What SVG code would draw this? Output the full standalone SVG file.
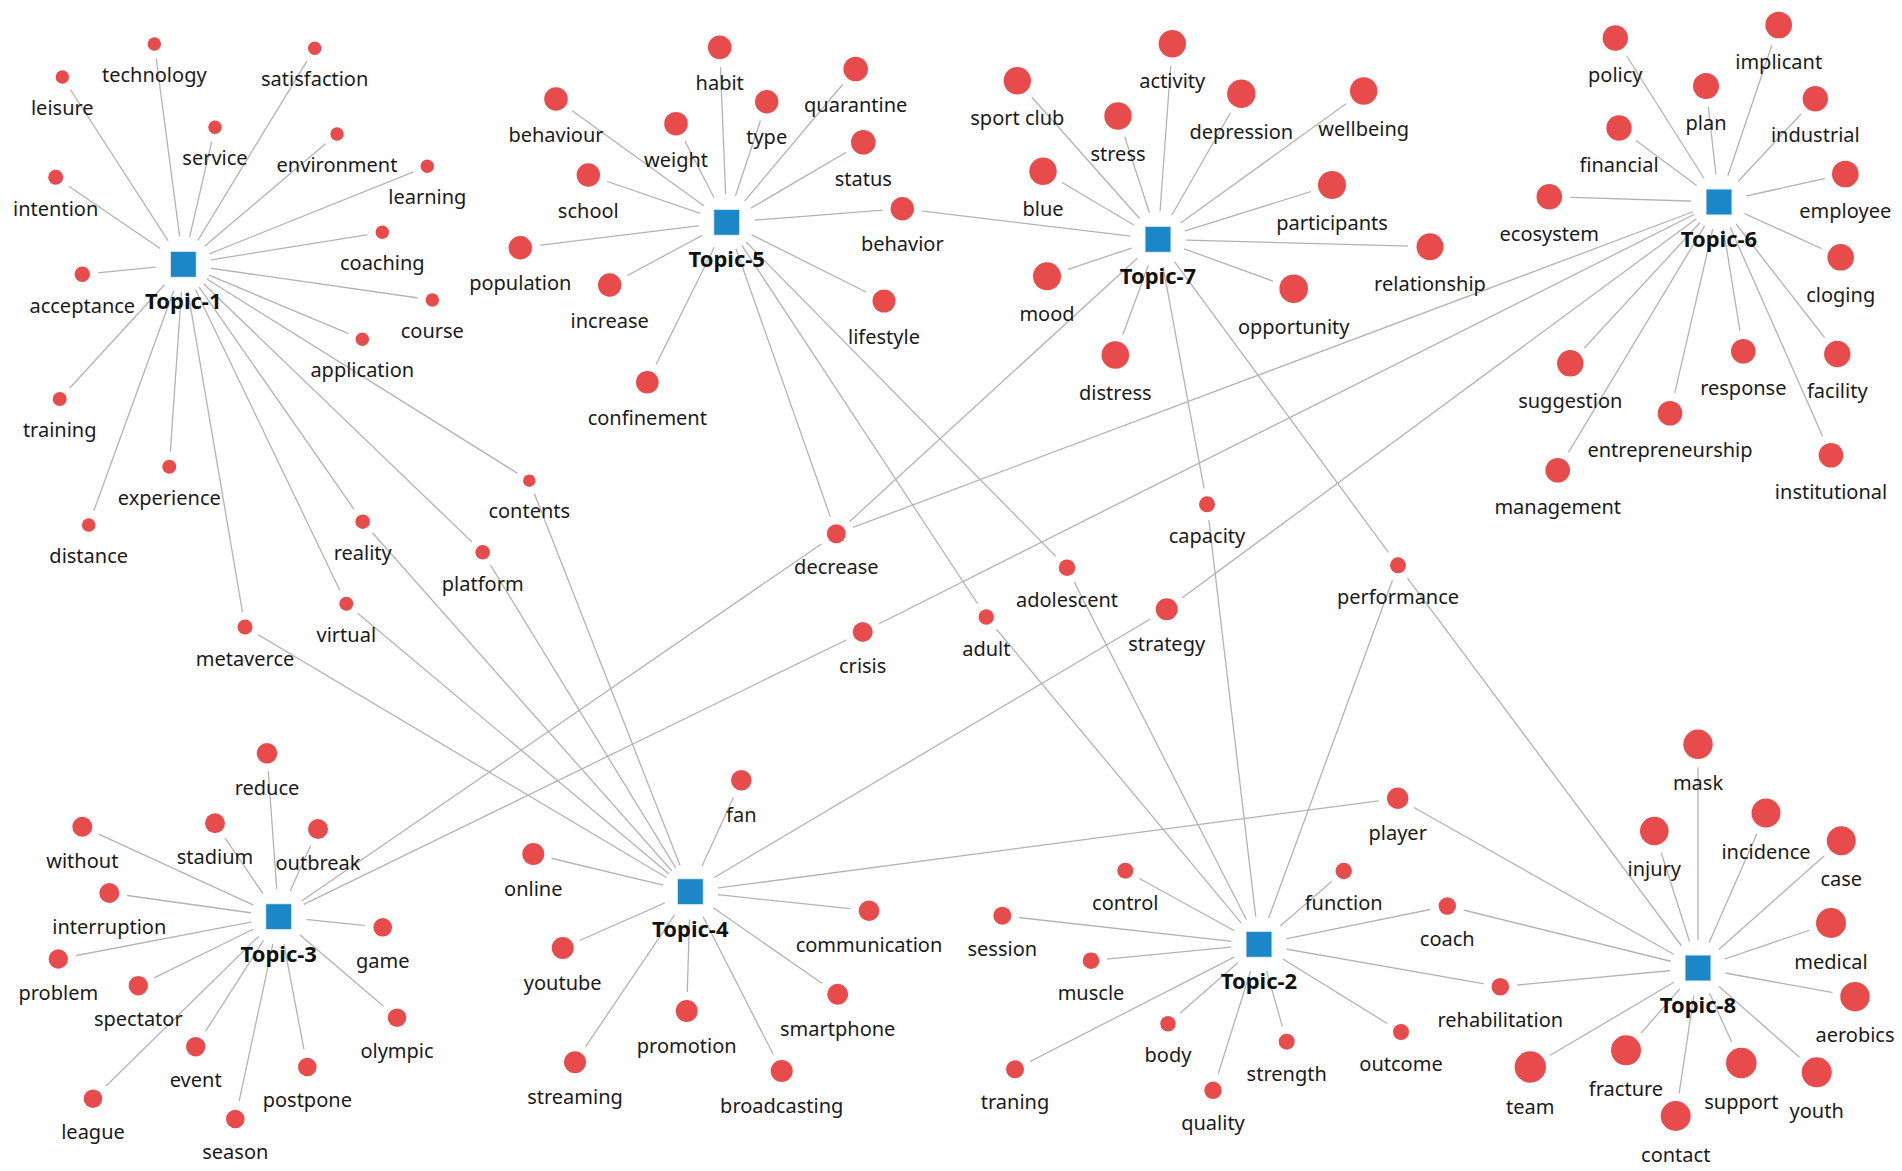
<svg xmlns="http://www.w3.org/2000/svg" width="1902" height="1171" viewBox="0 0 1902 1171">
<style>
.edge{stroke:#b3b3b3;stroke-width:1.3;fill:none}
.halo{fill:#ffffff}
.dot{fill:#e84b4b}
.sq{fill:#1b87c9;stroke:#e6f0f8;stroke-width:1}
.lbl{font-family:"Noto Sans","Liberation Sans",sans-serif;font-size:20px;fill:#1a1a1a;text-anchor:middle}
.tl{font-family:"Noto Sans","Liberation Sans",sans-serif;font-size:22px;font-weight:bold;fill:#111;text-anchor:middle}
</style>
<rect width="1902" height="1171" fill="#ffffff"/>
<g id="connectors">
<!-- Topic-1 -->
<line class="edge" x1="183.3" y1="264.3" x2="154.3" y2="44"/>
<line class="edge" x1="183.3" y1="264.3" x2="62.3" y2="77"/>
<line class="edge" x1="183.3" y1="264.3" x2="314.7" y2="48.3"/>
<line class="edge" x1="183.3" y1="264.3" x2="215" y2="127.3"/>
<line class="edge" x1="183.3" y1="264.3" x2="337" y2="134"/>
<line class="edge" x1="183.3" y1="264.3" x2="427.3" y2="166.3"/>
<line class="edge" x1="183.3" y1="264.3" x2="55.7" y2="177.3"/>
<line class="edge" x1="183.3" y1="264.3" x2="382.3" y2="232.3"/>
<line class="edge" x1="183.3" y1="264.3" x2="82.3" y2="274.3"/>
<line class="edge" x1="183.3" y1="264.3" x2="432.3" y2="300"/>
<line class="edge" x1="183.3" y1="264.3" x2="362.3" y2="339.3"/>
<line class="edge" x1="183.3" y1="264.3" x2="59.7" y2="399"/>
<line class="edge" x1="183.3" y1="264.3" x2="169.3" y2="466.7"/>
<line class="edge" x1="183.3" y1="264.3" x2="88.7" y2="525"/>
<line class="edge" x1="183.3" y1="264.3" x2="362.7" y2="521.7"/>
<line class="edge" x1="183.3" y1="264.3" x2="482.7" y2="552.3"/>
<line class="edge" x1="183.3" y1="264.3" x2="346.3" y2="603.7"/>
<line class="edge" x1="183.3" y1="264.3" x2="245" y2="627"/>
<line class="edge" x1="183.3" y1="264.3" x2="529.3" y2="480.7"/>
<!-- Topic-5 -->
<line class="edge" x1="726.7" y1="222.3" x2="719.7" y2="47.3"/>
<line class="edge" x1="726.7" y1="222.3" x2="855.7" y2="69"/>
<line class="edge" x1="726.7" y1="222.3" x2="556" y2="99"/>
<line class="edge" x1="726.7" y1="222.3" x2="766.7" y2="101.7"/>
<line class="edge" x1="726.7" y1="222.3" x2="676" y2="123.7"/>
<line class="edge" x1="726.7" y1="222.3" x2="863.3" y2="142.3"/>
<line class="edge" x1="726.7" y1="222.3" x2="588.3" y2="175"/>
<line class="edge" x1="726.7" y1="222.3" x2="902.3" y2="208.7"/>
<line class="edge" x1="726.7" y1="222.3" x2="520.3" y2="247.7"/>
<line class="edge" x1="726.7" y1="222.3" x2="609.7" y2="285"/>
<line class="edge" x1="726.7" y1="222.3" x2="884" y2="301"/>
<line class="edge" x1="726.7" y1="222.3" x2="647.3" y2="382.3"/>
<line class="edge" x1="726.7" y1="222.3" x2="836.3" y2="533.7"/>
<line class="edge" x1="726.7" y1="222.3" x2="986.3" y2="617"/>
<line class="edge" x1="726.7" y1="222.3" x2="1067" y2="567.7"/>
<!-- Topic-7 -->
<line class="edge" x1="1158" y1="239.3" x2="1172.3" y2="43.7"/>
<line class="edge" x1="1158" y1="239.3" x2="1017.3" y2="80.7"/>
<line class="edge" x1="1158" y1="239.3" x2="1241.3" y2="93.7"/>
<line class="edge" x1="1158" y1="239.3" x2="1363.7" y2="91"/>
<line class="edge" x1="1158" y1="239.3" x2="1118" y2="116"/>
<line class="edge" x1="1158" y1="239.3" x2="1043" y2="171.3"/>
<line class="edge" x1="1158" y1="239.3" x2="1332" y2="185"/>
<line class="edge" x1="1158" y1="239.3" x2="1430" y2="246.7"/>
<line class="edge" x1="1158" y1="239.3" x2="1047" y2="276.3"/>
<line class="edge" x1="1158" y1="239.3" x2="1293.7" y2="288.7"/>
<line class="edge" x1="1158" y1="239.3" x2="1115.3" y2="355"/>
<line class="edge" x1="1158" y1="239.3" x2="902.3" y2="208.7"/>
<line class="edge" x1="1158" y1="239.3" x2="836.3" y2="533.7"/>
<line class="edge" x1="1158" y1="239.3" x2="1207" y2="504.3"/>
<line class="edge" x1="1158" y1="239.3" x2="1398" y2="565.3"/>
<!-- Topic-6 -->
<line class="edge" x1="1719" y1="202" x2="1778.7" y2="25"/>
<line class="edge" x1="1719" y1="202" x2="1615.3" y2="38"/>
<line class="edge" x1="1719" y1="202" x2="1706" y2="86"/>
<line class="edge" x1="1719" y1="202" x2="1815.3" y2="98.7"/>
<line class="edge" x1="1719" y1="202" x2="1619" y2="128"/>
<line class="edge" x1="1719" y1="202" x2="1845.3" y2="174"/>
<line class="edge" x1="1719" y1="202" x2="1549.3" y2="196.7"/>
<line class="edge" x1="1719" y1="202" x2="1840.7" y2="257.3"/>
<line class="edge" x1="1719" y1="202" x2="1743.3" y2="351.3"/>
<line class="edge" x1="1719" y1="202" x2="1837.3" y2="354"/>
<line class="edge" x1="1719" y1="202" x2="1570.3" y2="363.3"/>
<line class="edge" x1="1719" y1="202" x2="1670" y2="413.3"/>
<line class="edge" x1="1719" y1="202" x2="1831" y2="455.3"/>
<line class="edge" x1="1719" y1="202" x2="1557.7" y2="470.3"/>
<line class="edge" x1="1719" y1="202" x2="836.3" y2="533.7"/>
<line class="edge" x1="1719" y1="202" x2="862.7" y2="632"/>
<line class="edge" x1="1719" y1="202" x2="1166.7" y2="609.3"/>
<!-- Topic-3 -->
<line class="edge" x1="278.7" y1="916.7" x2="267" y2="753.3"/>
<line class="edge" x1="278.7" y1="916.7" x2="82.3" y2="826.7"/>
<line class="edge" x1="278.7" y1="916.7" x2="215" y2="823.3"/>
<line class="edge" x1="278.7" y1="916.7" x2="318" y2="829"/>
<line class="edge" x1="278.7" y1="916.7" x2="109.3" y2="893"/>
<line class="edge" x1="278.7" y1="916.7" x2="382.7" y2="927.3"/>
<line class="edge" x1="278.7" y1="916.7" x2="58.3" y2="959"/>
<line class="edge" x1="278.7" y1="916.7" x2="138.3" y2="985.7"/>
<line class="edge" x1="278.7" y1="916.7" x2="397" y2="1017.7"/>
<line class="edge" x1="278.7" y1="916.7" x2="195.7" y2="1046.7"/>
<line class="edge" x1="278.7" y1="916.7" x2="307.3" y2="1067"/>
<line class="edge" x1="278.7" y1="916.7" x2="93" y2="1098.7"/>
<line class="edge" x1="278.7" y1="916.7" x2="235.3" y2="1119"/>
<line class="edge" x1="278.7" y1="916.7" x2="836.3" y2="533.7"/>
<line class="edge" x1="278.7" y1="916.7" x2="862.7" y2="632"/>
<!-- Topic-4 -->
<line class="edge" x1="690.3" y1="891.7" x2="741.3" y2="780.3"/>
<line class="edge" x1="690.3" y1="891.7" x2="533.3" y2="854"/>
<line class="edge" x1="690.3" y1="891.7" x2="869" y2="910.7"/>
<line class="edge" x1="690.3" y1="891.7" x2="562.7" y2="948"/>
<line class="edge" x1="690.3" y1="891.7" x2="837.7" y2="994.3"/>
<line class="edge" x1="690.3" y1="891.7" x2="686.7" y2="1011"/>
<line class="edge" x1="690.3" y1="891.7" x2="575" y2="1062.3"/>
<line class="edge" x1="690.3" y1="891.7" x2="781.7" y2="1071"/>
<line class="edge" x1="690.3" y1="891.7" x2="362.7" y2="521.7"/>
<line class="edge" x1="690.3" y1="891.7" x2="482.7" y2="552.3"/>
<line class="edge" x1="690.3" y1="891.7" x2="346.3" y2="603.7"/>
<line class="edge" x1="690.3" y1="891.7" x2="245" y2="627"/>
<line class="edge" x1="690.3" y1="891.7" x2="529.3" y2="480.7"/>
<line class="edge" x1="690.3" y1="891.7" x2="1166.7" y2="609.3"/>
<line class="edge" x1="690.3" y1="891.7" x2="1397.7" y2="798.3"/>
<!-- Topic-2 -->
<line class="edge" x1="1259" y1="944.3" x2="1125.3" y2="870.7"/>
<line class="edge" x1="1259" y1="944.3" x2="1343.7" y2="871"/>
<line class="edge" x1="1259" y1="944.3" x2="1447.3" y2="906"/>
<line class="edge" x1="1259" y1="944.3" x2="1002.3" y2="915.7"/>
<line class="edge" x1="1259" y1="944.3" x2="1091" y2="960.7"/>
<line class="edge" x1="1259" y1="944.3" x2="1168" y2="1023.7"/>
<line class="edge" x1="1259" y1="944.3" x2="1286.7" y2="1041.7"/>
<line class="edge" x1="1259" y1="944.3" x2="1401" y2="1032"/>
<line class="edge" x1="1259" y1="944.3" x2="1015" y2="1069.3"/>
<line class="edge" x1="1259" y1="944.3" x2="1213" y2="1090.3"/>
<line class="edge" x1="1259" y1="944.3" x2="1500.3" y2="986.7"/>
<line class="edge" x1="1259" y1="944.3" x2="986.3" y2="617"/>
<line class="edge" x1="1259" y1="944.3" x2="1067" y2="567.7"/>
<line class="edge" x1="1259" y1="944.3" x2="1207" y2="504.3"/>
<line class="edge" x1="1259" y1="944.3" x2="1398" y2="565.3"/>
<!-- Topic-8 -->
<line class="edge" x1="1698" y1="968" x2="1698" y2="744.3"/>
<line class="edge" x1="1698" y1="968" x2="1766" y2="813"/>
<line class="edge" x1="1698" y1="968" x2="1654.3" y2="831"/>
<line class="edge" x1="1698" y1="968" x2="1841.3" y2="840.7"/>
<line class="edge" x1="1698" y1="968" x2="1831" y2="923"/>
<line class="edge" x1="1698" y1="968" x2="1855" y2="996.7"/>
<line class="edge" x1="1698" y1="968" x2="1626" y2="1050.3"/>
<line class="edge" x1="1698" y1="968" x2="1741.3" y2="1063"/>
<line class="edge" x1="1698" y1="968" x2="1530.3" y2="1067"/>
<line class="edge" x1="1698" y1="968" x2="1816.7" y2="1072.3"/>
<line class="edge" x1="1698" y1="968" x2="1675.7" y2="1116"/>
<line class="edge" x1="1698" y1="968" x2="1447.3" y2="906"/>
<line class="edge" x1="1698" y1="968" x2="1500.3" y2="986.7"/>
<line class="edge" x1="1698" y1="968" x2="1397.7" y2="798.3"/>
<line class="edge" x1="1698" y1="968" x2="1398" y2="565.3"/>
</g>
<g id="halos">
<circle class="halo" cx="183.3" cy="264.3" r="28"/>
<circle class="halo" cx="1259" cy="944.3" r="28"/>
<circle class="halo" cx="278.7" cy="916.7" r="28"/>
<circle class="halo" cx="690.3" cy="891.7" r="28"/>
<circle class="halo" cx="726.7" cy="222.3" r="28"/>
<circle class="halo" cx="1719" cy="202" r="28"/>
<circle class="halo" cx="1158" cy="239.3" r="28"/>
<circle class="halo" cx="1698" cy="968" r="28"/>
<circle class="halo" cx="154.3" cy="44" r="15"/>
<circle class="halo" cx="62.3" cy="77" r="15"/>
<circle class="halo" cx="314.7" cy="48.3" r="15"/>
<circle class="halo" cx="215" cy="127.3" r="15"/>
<circle class="halo" cx="337" cy="134" r="15"/>
<circle class="halo" cx="427.3" cy="166.3" r="15"/>
<circle class="halo" cx="55.7" cy="177.3" r="16"/>
<circle class="halo" cx="382.3" cy="232.3" r="15"/>
<circle class="halo" cx="82.3" cy="274.3" r="16"/>
<circle class="halo" cx="432.3" cy="300" r="15"/>
<circle class="halo" cx="362.3" cy="339.3" r="15"/>
<circle class="halo" cx="59.7" cy="399" r="15"/>
<circle class="halo" cx="169.3" cy="466.7" r="15"/>
<circle class="halo" cx="88.7" cy="525" r="15"/>
<circle class="halo" cx="362.7" cy="521.7" r="15"/>
<circle class="halo" cx="482.7" cy="552.3" r="15"/>
<circle class="halo" cx="346.3" cy="603.7" r="15"/>
<circle class="halo" cx="245" cy="627" r="15"/>
<circle class="halo" cx="529.3" cy="480.7" r="14"/>
<circle class="halo" cx="719.7" cy="47.3" r="20"/>
<circle class="halo" cx="855.7" cy="69" r="20"/>
<circle class="halo" cx="556" cy="99" r="20"/>
<circle class="halo" cx="766.7" cy="101.7" r="20"/>
<circle class="halo" cx="676" cy="123.7" r="20"/>
<circle class="halo" cx="863.3" cy="142.3" r="20"/>
<circle class="halo" cx="588.3" cy="175" r="20"/>
<circle class="halo" cx="902.3" cy="208.7" r="20"/>
<circle class="halo" cx="520.3" cy="247.7" r="20"/>
<circle class="halo" cx="609.7" cy="285" r="20"/>
<circle class="halo" cx="884" cy="301" r="20"/>
<circle class="halo" cx="647.3" cy="382.3" r="20"/>
<circle class="halo" cx="1172.3" cy="43.7" r="22"/>
<circle class="halo" cx="1017.3" cy="80.7" r="22"/>
<circle class="halo" cx="1241.3" cy="93.7" r="22"/>
<circle class="halo" cx="1363.7" cy="91" r="22"/>
<circle class="halo" cx="1118" cy="116" r="22"/>
<circle class="halo" cx="1043" cy="171.3" r="22"/>
<circle class="halo" cx="1332" cy="185" r="22"/>
<circle class="halo" cx="1430" cy="246.7" r="22"/>
<circle class="halo" cx="1047" cy="276.3" r="22"/>
<circle class="halo" cx="1293.7" cy="288.7" r="22"/>
<circle class="halo" cx="1115.3" cy="355" r="22"/>
<circle class="halo" cx="1778.7" cy="25" r="21"/>
<circle class="halo" cx="1615.3" cy="38" r="21"/>
<circle class="halo" cx="1706" cy="86" r="21"/>
<circle class="halo" cx="1815.3" cy="98.7" r="21"/>
<circle class="halo" cx="1619" cy="128" r="21"/>
<circle class="halo" cx="1845.3" cy="174" r="21"/>
<circle class="halo" cx="1549.3" cy="196.7" r="21"/>
<circle class="halo" cx="1840.7" cy="257.3" r="21"/>
<circle class="halo" cx="1743.3" cy="351.3" r="21"/>
<circle class="halo" cx="1837.3" cy="354" r="21"/>
<circle class="halo" cx="1570.3" cy="363.3" r="21"/>
<circle class="halo" cx="1670" cy="413.3" r="21"/>
<circle class="halo" cx="1831" cy="455.3" r="21"/>
<circle class="halo" cx="1557.7" cy="470.3" r="21"/>
<circle class="halo" cx="836.3" cy="533.7" r="18"/>
<circle class="halo" cx="862.7" cy="632" r="18"/>
<circle class="halo" cx="1207" cy="504.3" r="16"/>
<circle class="halo" cx="1067" cy="567.7" r="16"/>
<circle class="halo" cx="1166.7" cy="609.3" r="19"/>
<circle class="halo" cx="1398" cy="565.3" r="16"/>
<circle class="halo" cx="986.3" cy="617" r="16"/>
<circle class="halo" cx="267" cy="753.3" r="18"/>
<circle class="halo" cx="82.3" cy="826.7" r="18"/>
<circle class="halo" cx="215" cy="823.3" r="18"/>
<circle class="halo" cx="318" cy="829" r="18"/>
<circle class="halo" cx="109.3" cy="893" r="18"/>
<circle class="halo" cx="382.7" cy="927.3" r="18"/>
<circle class="halo" cx="58.3" cy="959" r="18"/>
<circle class="halo" cx="138.3" cy="985.7" r="18"/>
<circle class="halo" cx="397" cy="1017.7" r="18"/>
<circle class="halo" cx="195.7" cy="1046.7" r="18"/>
<circle class="halo" cx="307.3" cy="1067" r="18"/>
<circle class="halo" cx="93" cy="1098.7" r="18"/>
<circle class="halo" cx="235.3" cy="1119" r="18"/>
<circle class="halo" cx="741.3" cy="780.3" r="19"/>
<circle class="halo" cx="533.3" cy="854" r="19"/>
<circle class="halo" cx="869" cy="910.7" r="19"/>
<circle class="halo" cx="562.7" cy="948" r="19"/>
<circle class="halo" cx="837.7" cy="994.3" r="19"/>
<circle class="halo" cx="686.7" cy="1011" r="19"/>
<circle class="halo" cx="575" cy="1062.3" r="19"/>
<circle class="halo" cx="781.7" cy="1071" r="19"/>
<circle class="halo" cx="1397.7" cy="798.3" r="19"/>
<circle class="halo" cx="1125.3" cy="870.7" r="16"/>
<circle class="halo" cx="1343.7" cy="871" r="16"/>
<circle class="halo" cx="1447.3" cy="906" r="17"/>
<circle class="halo" cx="1002.3" cy="915.7" r="17"/>
<circle class="halo" cx="1091" cy="960.7" r="16"/>
<circle class="halo" cx="1168" cy="1023.7" r="16"/>
<circle class="halo" cx="1286.7" cy="1041.7" r="16"/>
<circle class="halo" cx="1401" cy="1032" r="16"/>
<circle class="halo" cx="1015" cy="1069.3" r="17"/>
<circle class="halo" cx="1213" cy="1090.3" r="17"/>
<circle class="halo" cx="1500.3" cy="986.7" r="17"/>
<circle class="halo" cx="1698" cy="744.3" r="23"/>
<circle class="halo" cx="1766" cy="813" r="23"/>
<circle class="halo" cx="1654.3" cy="831" r="23"/>
<circle class="halo" cx="1841.3" cy="840.7" r="23"/>
<circle class="halo" cx="1831" cy="923" r="23"/>
<circle class="halo" cx="1855" cy="996.7" r="23"/>
<circle class="halo" cx="1626" cy="1050.3" r="23"/>
<circle class="halo" cx="1741.3" cy="1063" r="23"/>
<circle class="halo" cx="1530.3" cy="1067" r="23"/>
<circle class="halo" cx="1816.7" cy="1072.3" r="23"/>
<circle class="halo" cx="1675.7" cy="1116" r="23"/>
</g>
<g id="topics">
<g id="topic-1"><rect class="sq" x="170.3" y="251.3" width="26" height="26"/><text class="tl" x="183.3" y="309.3">Topic-1</text></g>
<g id="topic-2"><rect class="sq" x="1246" y="931.3" width="26" height="26"/><text class="tl" x="1259" y="989.3">Topic-2</text></g>
<g id="topic-3"><rect class="sq" x="265.7" y="903.7" width="26" height="26"/><text class="tl" x="278.7" y="961.7">Topic-3</text></g>
<g id="topic-4"><rect class="sq" x="677.3" y="878.7" width="26" height="26"/><text class="tl" x="690.3" y="936.7">Topic-4</text></g>
<g id="topic-5"><rect class="sq" x="713.7" y="209.3" width="26" height="26"/><text class="tl" x="726.7" y="267.3">Topic-5</text></g>
<g id="topic-6"><rect class="sq" x="1706" y="189" width="26" height="26"/><text class="tl" x="1719" y="247">Topic-6</text></g>
<g id="topic-7"><rect class="sq" x="1145" y="226.3" width="26" height="26"/><text class="tl" x="1158" y="284.3">Topic-7</text></g>
<g id="topic-8"><rect class="sq" x="1685" y="955" width="26" height="26"/><text class="tl" x="1698" y="1013">Topic-8</text></g>
</g>
<g id="terms">
<g id="n-technology"><circle class="dot" cx="154.3" cy="44" r="6.7"/><text class="lbl" x="154.3" y="81.7">technology</text></g>
<g id="n-leisure"><circle class="dot" cx="62.3" cy="77" r="6.7"/><text class="lbl" x="62.3" y="114.7">leisure</text></g>
<g id="n-satisfaction"><circle class="dot" cx="314.7" cy="48.3" r="6.7"/><text class="lbl" x="314.7" y="86">satisfaction</text></g>
<g id="n-service"><circle class="dot" cx="215" cy="127.3" r="6.7"/><text class="lbl" x="215" y="165">service</text></g>
<g id="n-environment"><circle class="dot" cx="337" cy="134" r="6.7"/><text class="lbl" x="337" y="171.7">environment</text></g>
<g id="n-learning"><circle class="dot" cx="427.3" cy="166.3" r="6.7"/><text class="lbl" x="427.3" y="204">learning</text></g>
<g id="n-intention"><circle class="dot" cx="55.7" cy="177.3" r="7.5"/><text class="lbl" x="55.7" y="215.8">intention</text></g>
<g id="n-coaching"><circle class="dot" cx="382.3" cy="232.3" r="6.7"/><text class="lbl" x="382.3" y="270">coaching</text></g>
<g id="n-acceptance"><circle class="dot" cx="82.3" cy="274.3" r="7.7"/><text class="lbl" x="82.3" y="313">acceptance</text></g>
<g id="n-course"><circle class="dot" cx="432.3" cy="300" r="6.7"/><text class="lbl" x="432.3" y="337.7">course</text></g>
<g id="n-application"><circle class="dot" cx="362.3" cy="339.3" r="6.7"/><text class="lbl" x="362.3" y="377">application</text></g>
<g id="n-training"><circle class="dot" cx="59.7" cy="399" r="7"/><text class="lbl" x="59.7" y="437">training</text></g>
<g id="n-experience"><circle class="dot" cx="169.3" cy="466.7" r="7"/><text class="lbl" x="169.3" y="504.7">experience</text></g>
<g id="n-distance"><circle class="dot" cx="88.7" cy="525" r="6.8"/><text class="lbl" x="88.7" y="562.8">distance</text></g>
<g id="n-reality"><circle class="dot" cx="362.7" cy="521.7" r="7.3"/><text class="lbl" x="362.7" y="560">reality</text></g>
<g id="n-platform"><circle class="dot" cx="482.7" cy="552.3" r="7.3"/><text class="lbl" x="482.7" y="590.6">platform</text></g>
<g id="n-virtual"><circle class="dot" cx="346.3" cy="603.7" r="7"/><text class="lbl" x="346.3" y="641.7">virtual</text></g>
<g id="n-metaverce"><circle class="dot" cx="245" cy="627" r="7.5"/><text class="lbl" x="245" y="665.5">metaverce</text></g>
<g id="n-contents"><circle class="dot" cx="529.3" cy="480.7" r="6.2"/><text class="lbl" x="529.3" y="517.9">contents</text></g>
<g id="n-habit"><circle class="dot" cx="719.7" cy="47.3" r="11.8"/><text class="lbl" x="719.7" y="90.1">habit</text></g>
<g id="n-quarantine"><circle class="dot" cx="855.7" cy="69" r="12.3"/><text class="lbl" x="855.7" y="112.3">quarantine</text></g>
<g id="n-behaviour"><circle class="dot" cx="556" cy="99" r="11.8"/><text class="lbl" x="556" y="141.8">behaviour</text></g>
<g id="n-type"><circle class="dot" cx="766.7" cy="101.7" r="11.7"/><text class="lbl" x="766.7" y="144.4">type</text></g>
<g id="n-weight"><circle class="dot" cx="676" cy="123.7" r="11.8"/><text class="lbl" x="676" y="166.5">weight</text></g>
<g id="n-status"><circle class="dot" cx="863.3" cy="142.3" r="12.3"/><text class="lbl" x="863.3" y="185.6">status</text></g>
<g id="n-school"><circle class="dot" cx="588.3" cy="175" r="11.7"/><text class="lbl" x="588.3" y="217.7">school</text></g>
<g id="n-behavior"><circle class="dot" cx="902.3" cy="208.7" r="11.7"/><text class="lbl" x="902.3" y="251.4">behavior</text></g>
<g id="n-population"><circle class="dot" cx="520.3" cy="247.7" r="11.7"/><text class="lbl" x="520.3" y="290.4">population</text></g>
<g id="n-increase"><circle class="dot" cx="609.7" cy="285" r="11.7"/><text class="lbl" x="609.7" y="327.7">increase</text></g>
<g id="n-lifestyle"><circle class="dot" cx="884" cy="301" r="11.5"/><text class="lbl" x="884" y="343.5">lifestyle</text></g>
<g id="n-confinement"><circle class="dot" cx="647.3" cy="382.3" r="11.3"/><text class="lbl" x="647.3" y="424.6">confinement</text></g>
<g id="n-activity"><circle class="dot" cx="1172.3" cy="43.7" r="13.7"/><text class="lbl" x="1172.3" y="88.4">activity</text></g>
<g id="n-sport-club"><circle class="dot" cx="1017.3" cy="80.7" r="13.7"/><text class="lbl" x="1017.3" y="125.4">sport club</text></g>
<g id="n-depression"><circle class="dot" cx="1241.3" cy="93.7" r="14.2"/><text class="lbl" x="1241.3" y="138.9">depression</text></g>
<g id="n-wellbeing"><circle class="dot" cx="1363.7" cy="91" r="13.7"/><text class="lbl" x="1363.7" y="135.7">wellbeing</text></g>
<g id="n-stress"><circle class="dot" cx="1118" cy="116" r="13.7"/><text class="lbl" x="1118" y="160.7">stress</text></g>
<g id="n-blue"><circle class="dot" cx="1043" cy="171.3" r="13.7"/><text class="lbl" x="1043" y="216">blue</text></g>
<g id="n-participants"><circle class="dot" cx="1332" cy="185" r="14"/><text class="lbl" x="1332" y="230">participants</text></g>
<g id="n-relationship"><circle class="dot" cx="1430" cy="246.7" r="13.5"/><text class="lbl" x="1430" y="291.2">relationship</text></g>
<g id="n-mood"><circle class="dot" cx="1047" cy="276.3" r="14"/><text class="lbl" x="1047" y="321.3">mood</text></g>
<g id="n-opportunity"><circle class="dot" cx="1293.7" cy="288.7" r="14.3"/><text class="lbl" x="1293.7" y="334">opportunity</text></g>
<g id="n-distress"><circle class="dot" cx="1115.3" cy="355" r="13.8"/><text class="lbl" x="1115.3" y="399.8">distress</text></g>
<g id="n-implicant"><circle class="dot" cx="1778.7" cy="25" r="13.3"/><text class="lbl" x="1778.7" y="69.3">implicant</text></g>
<g id="n-policy"><circle class="dot" cx="1615.3" cy="38" r="12.7"/><text class="lbl" x="1615.3" y="81.7">policy</text></g>
<g id="n-plan"><circle class="dot" cx="1706" cy="86" r="13"/><text class="lbl" x="1706" y="130">plan</text></g>
<g id="n-industrial"><circle class="dot" cx="1815.3" cy="98.7" r="12.7"/><text class="lbl" x="1815.3" y="142.4">industrial</text></g>
<g id="n-financial"><circle class="dot" cx="1619" cy="128" r="12.7"/><text class="lbl" x="1619" y="171.7">financial</text></g>
<g id="n-employee"><circle class="dot" cx="1845.3" cy="174" r="13.3"/><text class="lbl" x="1845.3" y="218.3">employee</text></g>
<g id="n-ecosystem"><circle class="dot" cx="1549.3" cy="196.7" r="12.8"/><text class="lbl" x="1549.3" y="240.5">ecosystem</text></g>
<g id="n-cloging"><circle class="dot" cx="1840.7" cy="257.3" r="13.3"/><text class="lbl" x="1840.7" y="301.6">cloging</text></g>
<g id="n-response"><circle class="dot" cx="1743.3" cy="351.3" r="12.3"/><text class="lbl" x="1743.3" y="394.6">response</text></g>
<g id="n-facility"><circle class="dot" cx="1837.3" cy="354" r="13.2"/><text class="lbl" x="1837.3" y="398.2">facility</text></g>
<g id="n-suggestion"><circle class="dot" cx="1570.3" cy="363.3" r="13.2"/><text class="lbl" x="1570.3" y="407.5">suggestion</text></g>
<g id="n-entrepreneurship"><circle class="dot" cx="1670" cy="413.3" r="12.3"/><text class="lbl" x="1670" y="456.6">entrepreneurship</text></g>
<g id="n-institutional"><circle class="dot" cx="1831" cy="455.3" r="12.3"/><text class="lbl" x="1831" y="498.6">institutional</text></g>
<g id="n-management"><circle class="dot" cx="1557.7" cy="470.3" r="12.3"/><text class="lbl" x="1557.7" y="513.6">management</text></g>
<g id="n-decrease"><circle class="dot" cx="836.3" cy="533.7" r="9.5"/><text class="lbl" x="836.3" y="574.2">decrease</text></g>
<g id="n-crisis"><circle class="dot" cx="862.7" cy="632" r="10"/><text class="lbl" x="862.7" y="673">crisis</text></g>
<g id="n-capacity"><circle class="dot" cx="1207" cy="504.3" r="8"/><text class="lbl" x="1207" y="543.3">capacity</text></g>
<g id="n-adolescent"><circle class="dot" cx="1067" cy="567.7" r="8.3"/><text class="lbl" x="1067" y="607">adolescent</text></g>
<g id="n-strategy"><circle class="dot" cx="1166.7" cy="609.3" r="11"/><text class="lbl" x="1166.7" y="651.3">strategy</text></g>
<g id="n-performance"><circle class="dot" cx="1398" cy="565.3" r="8"/><text class="lbl" x="1398" y="604.3">performance</text></g>
<g id="n-adult"><circle class="dot" cx="986.3" cy="617" r="7.7"/><text class="lbl" x="986.3" y="655.7">adult</text></g>
<g id="n-reduce"><circle class="dot" cx="267" cy="753.3" r="10.3"/><text class="lbl" x="267" y="794.6">reduce</text></g>
<g id="n-without"><circle class="dot" cx="82.3" cy="826.7" r="10"/><text class="lbl" x="82.3" y="867.7">without</text></g>
<g id="n-stadium"><circle class="dot" cx="215" cy="823.3" r="10"/><text class="lbl" x="215" y="864.3">stadium</text></g>
<g id="n-outbreak"><circle class="dot" cx="318" cy="829" r="10"/><text class="lbl" x="318" y="870">outbreak</text></g>
<g id="n-interruption"><circle class="dot" cx="109.3" cy="893" r="10"/><text class="lbl" x="109.3" y="934">interruption</text></g>
<g id="n-game"><circle class="dot" cx="382.7" cy="927.3" r="9.3"/><text class="lbl" x="382.7" y="967.6">game</text></g>
<g id="n-problem"><circle class="dot" cx="58.3" cy="959" r="9.7"/><text class="lbl" x="58.3" y="999.7">problem</text></g>
<g id="n-spectator"><circle class="dot" cx="138.3" cy="985.7" r="9.7"/><text class="lbl" x="138.3" y="1026.4">spectator</text></g>
<g id="n-olympic"><circle class="dot" cx="397" cy="1017.7" r="9.3"/><text class="lbl" x="397" y="1058">olympic</text></g>
<g id="n-event"><circle class="dot" cx="195.7" cy="1046.7" r="9.7"/><text class="lbl" x="195.7" y="1087.4">event</text></g>
<g id="n-postpone"><circle class="dot" cx="307.3" cy="1067" r="9.3"/><text class="lbl" x="307.3" y="1107.3">postpone</text></g>
<g id="n-league"><circle class="dot" cx="93" cy="1098.7" r="9.3"/><text class="lbl" x="93" y="1139">league</text></g>
<g id="n-season"><circle class="dot" cx="235.3" cy="1119" r="9.3"/><text class="lbl" x="235.3" y="1159.3">season</text></g>
<g id="n-fan"><circle class="dot" cx="741.3" cy="780.3" r="10.3"/><text class="lbl" x="741.3" y="821.6">fan</text></g>
<g id="n-online"><circle class="dot" cx="533.3" cy="854" r="11"/><text class="lbl" x="533.3" y="896">online</text></g>
<g id="n-communication"><circle class="dot" cx="869" cy="910.7" r="10.3"/><text class="lbl" x="869" y="952">communication</text></g>
<g id="n-youtube"><circle class="dot" cx="562.7" cy="948" r="11"/><text class="lbl" x="562.7" y="990">youtube</text></g>
<g id="n-smartphone"><circle class="dot" cx="837.7" cy="994.3" r="10.5"/><text class="lbl" x="837.7" y="1035.8">smartphone</text></g>
<g id="n-promotion"><circle class="dot" cx="686.7" cy="1011" r="11"/><text class="lbl" x="686.7" y="1053">promotion</text></g>
<g id="n-streaming"><circle class="dot" cx="575" cy="1062.3" r="11"/><text class="lbl" x="575" y="1104.3">streaming</text></g>
<g id="n-broadcasting"><circle class="dot" cx="781.7" cy="1071" r="11"/><text class="lbl" x="781.7" y="1113">broadcasting</text></g>
<g id="n-player"><circle class="dot" cx="1397.7" cy="798.3" r="10.7"/><text class="lbl" x="1397.7" y="840">player</text></g>
<g id="n-control"><circle class="dot" cx="1125.3" cy="870.7" r="8"/><text class="lbl" x="1125.3" y="909.7">control</text></g>
<g id="n-function"><circle class="dot" cx="1343.7" cy="871" r="8.2"/><text class="lbl" x="1343.7" y="910.2">function</text></g>
<g id="n-coach"><circle class="dot" cx="1447.3" cy="906" r="8.7"/><text class="lbl" x="1447.3" y="945.7">coach</text></g>
<g id="n-session"><circle class="dot" cx="1002.3" cy="915.7" r="9"/><text class="lbl" x="1002.3" y="955.7">session</text></g>
<g id="n-muscle"><circle class="dot" cx="1091" cy="960.7" r="8.3"/><text class="lbl" x="1091" y="1000">muscle</text></g>
<g id="n-body"><circle class="dot" cx="1168" cy="1023.7" r="7.7"/><text class="lbl" x="1168" y="1062.4">body</text></g>
<g id="n-strength"><circle class="dot" cx="1286.7" cy="1041.7" r="8"/><text class="lbl" x="1286.7" y="1080.7">strength</text></g>
<g id="n-outcome"><circle class="dot" cx="1401" cy="1032" r="8"/><text class="lbl" x="1401" y="1071">outcome</text></g>
<g id="n-traning"><circle class="dot" cx="1015" cy="1069.3" r="9"/><text class="lbl" x="1015" y="1109.3">traning</text></g>
<g id="n-quality"><circle class="dot" cx="1213" cy="1090.3" r="8.7"/><text class="lbl" x="1213" y="1130">quality</text></g>
<g id="n-rehabilitation"><circle class="dot" cx="1500.3" cy="986.7" r="8.8"/><text class="lbl" x="1500.3" y="1026.5">rehabilitation</text></g>
<g id="n-mask"><circle class="dot" cx="1698" cy="744.3" r="14.7"/><text class="lbl" x="1698" y="790">mask</text></g>
<g id="n-incidence"><circle class="dot" cx="1766" cy="813" r="14.5"/><text class="lbl" x="1766" y="858.5">incidence</text></g>
<g id="n-injury"><circle class="dot" cx="1654.3" cy="831" r="14.3"/><text class="lbl" x="1654.3" y="876.3">injury</text></g>
<g id="n-case"><circle class="dot" cx="1841.3" cy="840.7" r="14.5"/><text class="lbl" x="1841.3" y="886.2">case</text></g>
<g id="n-medical"><circle class="dot" cx="1831" cy="923" r="15"/><text class="lbl" x="1831" y="969">medical</text></g>
<g id="n-aerobics"><circle class="dot" cx="1855" cy="996.7" r="14.7"/><text class="lbl" x="1855" y="1042.4">aerobics</text></g>
<g id="n-fracture"><circle class="dot" cx="1626" cy="1050.3" r="15"/><text class="lbl" x="1626" y="1096.3">fracture</text></g>
<g id="n-support"><circle class="dot" cx="1741.3" cy="1063" r="15.3"/><text class="lbl" x="1741.3" y="1109.3">support</text></g>
<g id="n-team"><circle class="dot" cx="1530.3" cy="1067" r="15.7"/><text class="lbl" x="1530.3" y="1113.7">team</text></g>
<g id="n-youth"><circle class="dot" cx="1816.7" cy="1072.3" r="15"/><text class="lbl" x="1816.7" y="1118.3">youth</text></g>
<g id="n-contact"><circle class="dot" cx="1675.7" cy="1116" r="15"/><text class="lbl" x="1675.7" y="1162">contact</text></g>
</g>
</svg>
